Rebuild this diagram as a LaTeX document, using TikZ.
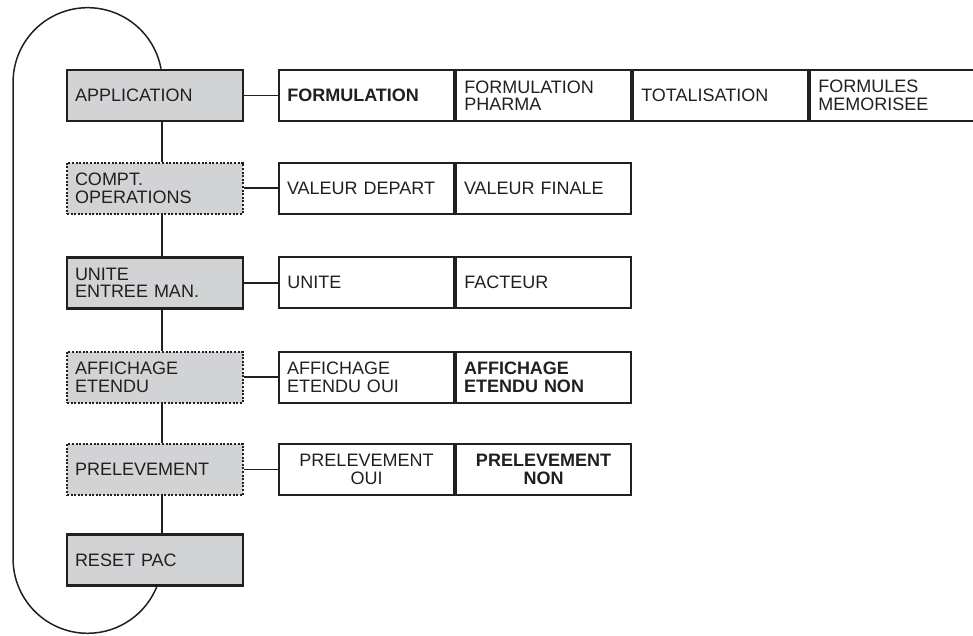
\documentclass[tikz,border=0pt]{standalone}
\usepackage{fontspec}
\setmainfont{Liberation Sans}
\usetikzlibrary{positioning}
\definecolor{mnInk}{RGB}{35,31,32}
\definecolor{mnGray}{RGB}{210,211,213}

\begin{document}
\begin{tikzpicture}[
  x=1pt, y=1pt,
  font=\fontsize{18pt}{17.5pt}\selectfont,
  menu/.style={draw=mnInk, text=mnInk, line width=2.6pt, fill=mnGray, minimum width=176pt, minimum height=51pt, text width=160pt, inner xsep=8pt, inner ysep=0pt, align=left},
  menudot/.style={menu, line width=2pt, dash pattern=on 2pt off 1.6pt},
  opt/.style={draw=mnInk, text=mnInk, line width=2pt, fill=white, minimum width=175pt, minimum height=51pt, text width=159pt, inner xsep=8pt, inner ysep=0pt, align=left},
  optc/.style={opt, align=center},
  link/.style={draw=mnInk, line width=1.6pt},
]
\useasboundingbox (0,0) rectangle (973,635);
% menu column
\node[menu] (app) at (155,539.5) {APPLICATION};
\node[menudot] (cpt) at (155,446.8) {COMPT.\\OPERATIONS};
\node[menu] (unt) at (155,352.2) {UNITE\\ENTREE MAN.};
\node[menudot] (aff) at (155,257.8) {AFFICHAGE\\ETENDU};
\node[menudot] (prl) at (155,165.6) {PRELEVEMENT};
\node[menu] (rst) at (155,75) {RESET PAC};
% choices
\node[opt, right=34pt of app] (frm) {\bfseries FORMULATION};
\node[opt, right=0pt of frm] (fph) {FORMULATION\\PHARMA};
\node[opt, right=0pt of fph] (tot) {TOTALISATION};
\node[opt, right=0pt of tot] (fme) {FORMULES\\MEMORISEE};
\node[opt, right=34pt of cpt] (vdp) {VALEUR DEPART};
\node[opt, right=0pt of vdp] (vfn) {VALEUR FINALE};
\node[opt, right=34pt of unt] (uni) {UNITE};
\node[opt, right=0pt of uni] (fac) {FACTEUR};
\node[opt, right=34pt of aff] (aoui) {AFFICHAGE\\ETENDU OUI};
\node[opt, right=0pt of aoui] (anon) {\bfseries AFFICHAGE\\ETENDU NON};
\node[optc, right=34pt of prl] (poui) {PRELEVEMENT\\OUI};
\node[optc, right=0pt of poui] (pnon) {\bfseries PRELEVEMENT\\NON};
% links
\foreach \a/\b in {app/cpt, cpt/unt, unt/aff, aff/prl, prl/rst}
  \draw[link] ([xshift=7pt]\a.south) -- ([xshift=7pt]\b.north);
\foreach \a/\b in {app/frm, cpt/vdp, unt/uni, aff/aoui, prl/poui}
  \draw[link] (\a.east) -- (\b.west);
% return loop
\draw[mnInk, line width=1.5pt] ([xshift=6pt]app.north) arc[start angle=10.5, end angle=180, radius=74.6]
  -- ++(0,-476.4) arc[start angle=180, end angle=340, radius=74.6];
\end{tikzpicture}
\end{document}
